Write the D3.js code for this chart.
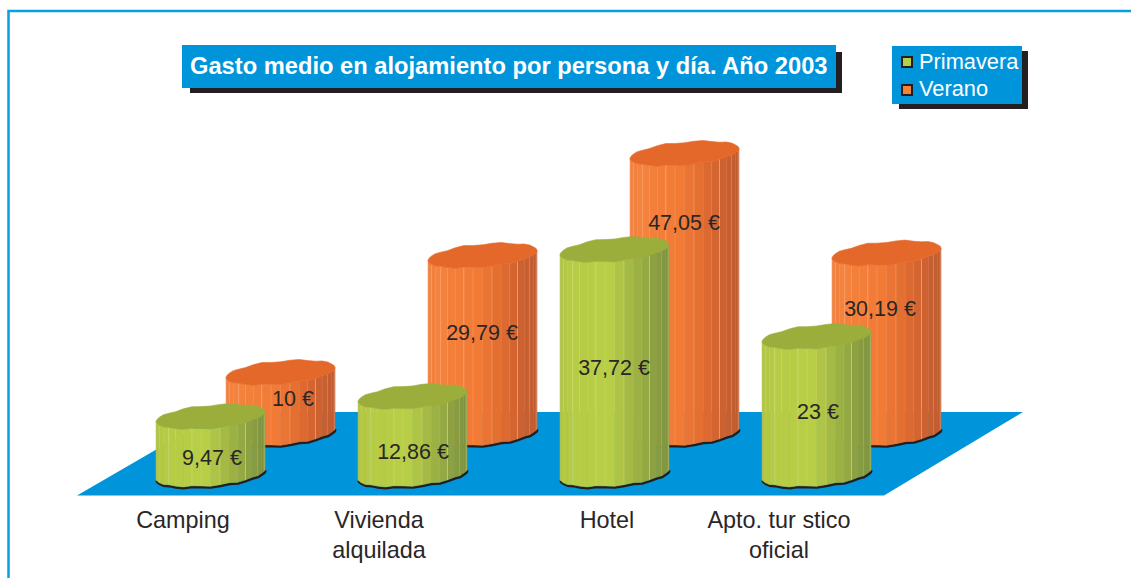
<!DOCTYPE html>
<html><head><meta charset="utf-8">
<script src="https://cdnjs.cloudflare.com/ajax/libs/d3/7.8.5/d3.min.js"></script>
<style>html,body{margin:0;padding:0;background:#fff}svg{display:block}text{font-family:"Liberation Sans",Arial,sans-serif}</style>
</head><body><svg id="c" width="1131" height="578"></svg>
<script>
const categories=["Camping","Vivienda alquilada","Hotel","Apto. tur stico oficial"];
const primavera=[9.47,12.86,37.72,23];
const verano=[10,29.79,47.05,30.19];
const primaveraLabels=["9,47 €","12,86 €","37,72 €","23 €"];
const veranoLabels=["10 €","29,79 €","47,05 €","30,19 €"];
const titleText="Gasto medio en alojamiento por persona y día. Año 2003";
const seriesNames=["Primavera","Verano"];

// layout only
const W=1131,H=578,BLUE="#0095da",DARK="#231f20",INK="#2a2627";
const catLines=[["Camping"],["Vivienda","alquilada"],["Hotel"],["Apto. tur stico","oficial"]];
const catCentres=[183,379,607,779];
const priLabelY=[465,459,375,419];
const verLabelY=[406,340,230,316];
const priLabelX=[212,413,614,818];
const verLabelX=[293,482,684,880];
const RX=54.5,RY=11.5,SKEW=-5;
const bump=[0,.8,-.4,.6,-.6,.3,.9,-.5,.2,.8,-.3,-.8,.5,.1,-.6,.7,.2,-.7,.6,.9,-.2,-.7,.4,1,-.3,-.8,.5,.9,0,-.5,.7,1,-.4,-.6,.6,.2];
const lineAlpha=[.15,.55,.1,.35,.05,.7,.2,.1,.45,.05,.3,.6,.1,.25,.5,.1,.4,.2];
const svg=d3.select("#c");
const x=d3.scaleBand().domain(categories).range([156,964]);
const h=d3.scaleLinear().domain([-.5,50]).range([-1.5,297]);
const greenCol=d3.scaleLinear().domain([0,.08,.45,.72,1]).range(["#aec343","#b6cb45","#b9cf47","#9bb044","#7d9140"]);
const orangeCol=d3.scaleLinear().domain([0,.1,.45,.7,1]).range(["#f08040","#f4833d","#f27a35","#dd6a30","#bd5a30"]);

svg.append("path").attr("d","M1131,11H8.5V578").attr("fill","none").attr("stroke","#0a9fdf").attr("stroke-width",2.5);
svg.append("path").attr("d","M77,495.5H884L1023,412H221Z").attr("fill",BLUE);

function ring(cx,cy){
  const n=bump.length;
  return d3.range(n).map(i=>{
    const a=i/n*2*Math.PI,c=Math.cos(a),s=Math.sin(a);
    return {px:cx+RX*c,py:cy+RY*s+SKEW*c+bump[i]*Math.abs(s),s};
  });
}
function cylinder(g,cx,base,height,col,topCol,edge){
  const bot=ring(cx,base),top=ring(cx,base-height),n=bot.length;
  const line=d3.line().x(d=>d.px).y(d=>d.py).curve(d3.curveLinearClosed);
  const low=bot.filter(d=>d.s>=-0.01).sort((a,b)=>b.px-a.px);
  g.append("path").attr("d",d3.line().x(d=>d.px).y(d=>d.py)(low)).attr("fill","none").attr("stroke",DARK).attr("stroke-width",2.5).attr("transform","translate(.5,1.3)");
  const facets=[];
  for(let i=0;i<n;i++){const j=(i+1)%n;if(bot[i].s>=-0.01&&bot[j].s>=-0.01)facets.push([i,j]);}
  facets.forEach(([i,j])=>{
    const p=bot[i],q=bot[j],f=((p.px+q.px)/2-cx+RX)/(2*RX);
    g.append("path").attr("d",`M${p.px},${p.py}L${q.px},${q.py}L${q.px},${top[j].py}L${p.px},${top[i].py}Z`)
      .attr("fill",col(f)).attr("stroke",col(f)).attr("stroke-width",.5);
  });
  facets.forEach(([i,j],k)=>{
    g.append("line").attr("x1",bot[i].px).attr("x2",bot[i].px).attr("y1",top[i].py).attr("y2",bot[i].py)
      .attr("stroke",edge).attr("stroke-opacity",lineAlpha[k%lineAlpha.length]).attr("stroke-width",.8);
  });
  g.append("path").attr("d",line(top)).attr("fill",topCol).attr("stroke",topCol).attr("stroke-width",.6);
}
function series(values,offset,base,col,topCol,edge,labels,labelX,labelY){
  const g=svg.append("g");
  values.forEach((v,i)=>cylinder(g.append("g"),x(categories[i])+offset,base,h(v),col,topCol,edge));
  return ()=>values.forEach((v,i)=>{
    svg.append("text").attr("x",labelX[i]).attr("y",labelY[i]).attr("text-anchor","middle")
      .attr("font-size",21.5).attr("fill",INK).text(labels[i]);
  });
}
const t1=series(verano,124.5,433,orangeCol,"#e5682b","#f9c09c",veranoLabels,verLabelX,verLabelY);
const t2=series(primavera,54.5,474,greenCol,"#9bae3c","#dbe69a",primaveraLabels,priLabelX,priLabelY);
t1();t2();

categories.forEach((c,i)=>{
  catLines[i].forEach((l,k)=>{
    svg.append("text").attr("x",catCentres[i]).attr("y",528+k*30).attr("text-anchor","middle")
      .attr("font-size",23.4).attr("fill",INK).text(l);
  });
});
svg.append("rect").attr("x",190).attr("y",52).attr("width",652).attr("height",41).attr("fill",DARK);
svg.append("rect").attr("x",182).attr("y",45).attr("width",654).attr("height",43).attr("fill",BLUE);
svg.append("text").attr("x",190).attr("y",74).attr("font-size",23.7).attr("font-weight","bold").attr("fill","#fff").text(titleText);
svg.append("rect").attr("x",899).attr("y",51).attr("width",129).attr("height",58).attr("fill",DARK);
svg.append("rect").attr("x",892).attr("y",46).attr("width",130).attr("height",58).attr("fill",BLUE);
const swatch=["#b5cf47","#f58238"];
seriesNames.forEach((n,i)=>{
  svg.append("rect").attr("x",902).attr("y",57+i*28).attr("width",10).attr("height",10).attr("fill",swatch[i]).attr("stroke",DARK).attr("stroke-width",2);
  svg.append("text").attr("x",919).attr("y",69+i*27).attr("font-size",21.8).attr("fill","#fff").text(n);
});
</script></body></html>
